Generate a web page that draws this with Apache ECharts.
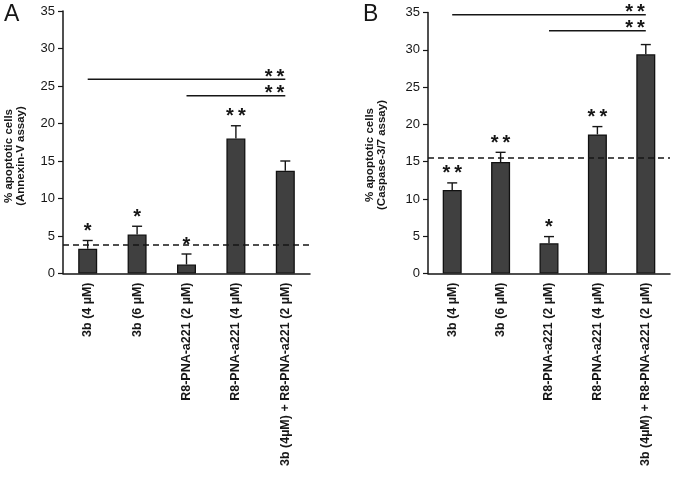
<!DOCTYPE html>
<html>
<head>
<meta charset="utf-8">
<script src="https://cdn.jsdelivr.net/npm/echarts@6/dist/echarts.min.js"></script>
<style>html,body{margin:0;padding:0;background:#fff}#c{width:677px;height:478px}</style>
</head>
<body>
<div id="c"></div>
<script>
const categories = ['3b (4 µM)', '3b (6 µM)', 'R8-PNA-a221 (2 µM)', 'R8-PNA-a221 (4 µM)', '3b (4µM) + R8-PNA-a221 (2 µM)'];
const yTicks = [0, 5, 10, 15, 20, 25, 30, 35];

const annexinValues = [3.3, 5.2, 1.2, 18.0, 13.7];
const annexinErrors = [1.1, 1.1, 1.4, 1.7, 1.3];
const annexinStars = ['*', '*', '*', '**', ''];
const annexinControl = 3.9;
const annexinBrackets = [[0, 4, 25.9, '**'], [2, 4, 23.7, '**']];

const caspaseValues = [11.2, 14.95, 4.05, 18.65, 29.4];
const caspaseErrors = [0.95, 1.3, 0.9, 1.05, 1.3];
const caspaseStars = ['**', '**', '*', '**', ''];
const caspaseControl = 15.5;
const caspaseBrackets = [[0, 4, 34.7, '**'], [2, 4, 32.55, '**']];

const FONT = 'Liberation Sans, Arial, sans-serif';
const INK = '#161616';

function starText(s) { return s.split('').join('\u2009'); }

function xAxisCfg(gi) {
  return {
    type: 'category', gridIndex: gi, data: categories,
    axisLine: { lineStyle: { color: INK, width: 1.5 } },
    axisTick: { show: false },
    axisLabel: { rotate: 90, interval: 0, margin: 9, fontFamily: FONT, fontWeight: 'bold', fontSize: 12.5, color: INK }
  };
}
function yAxisCfg(gi) {
  return {
    type: 'value', gridIndex: gi, min: yTicks[0], max: yTicks[yTicks.length - 1], interval: yTicks[1] - yTicks[0],
    splitLine: { show: false },
    axisLine: { show: true, lineStyle: { color: INK, width: 1.5 } },
    axisTick: { show: true, length: 5, lineStyle: { color: INK, width: 1.2 } },
    axisLabel: { margin: 8, fontFamily: FONT, fontSize: 13, color: INK }
  };
}
function barSeries(gi, values, control) {
  return {
    type: 'bar', xAxisIndex: gi, yAxisIndex: gi, data: values, barWidth: 19,
    itemStyle: { color: '#404040', borderColor: '#111', borderWidth: 1.3 },
    markLine: {
      silent: true, symbol: 'none', label: { show: false },
      lineStyle: { color: INK, type: [6, 4], width: 1.6 },
      data: [{ yAxis: control }]
    },
    z: 2
  };
}
function errSeries(gi, values, errors, stars) {
  return {
    type: 'custom', xAxisIndex: gi, yAxisIndex: gi, z: 3,
    data: values.map((v, i) => [i, v, errors[i]]),
    renderItem: function (params, api) {
      const i = api.value(0), v = api.value(1), e = api.value(2);
      const b = api.coord([i, v]);
      const t = api.coord([i, v + e]);
      const cap = 5;
      const children = [
        { type: 'line', shape: { x1: b[0], y1: b[1], x2: t[0], y2: t[1] }, style: { stroke: INK, lineWidth: 1.4 } },
        { type: 'line', shape: { x1: t[0] - cap, y1: t[1], x2: t[0] + cap, y2: t[1] }, style: { stroke: INK, lineWidth: 1.4 } }
      ];
      const s = stars[params.dataIndex];
      if (s) {
        children.push({ type: 'text', style: { text: starText(s), x: t[0], y: t[1] - 9, align: 'center', verticalAlign: 'middle', font: 'bold 20px ' + FONT, fill: INK } });
      }
      return { type: 'group', children: children };
    }
  };
}
function bracketSeries(gi, brackets) {
  return {
    type: 'custom', xAxisIndex: gi, yAxisIndex: gi, z: 3, clip: false,
    data: brackets,
    renderItem: function (params, api) {
      const p1 = api.coord([api.value(0), api.value(2)]);
      const p2 = api.coord([api.value(1), api.value(2)]);
      const lab = brackets[params.dataIndex][3];
      return {
        type: 'group', children: [
          { type: 'line', shape: { x1: p1[0], y1: p1[1], x2: p2[0], y2: p2[1] }, style: { stroke: INK, lineWidth: 1.4 } },
          { type: 'text', style: { text: starText(lab), x: p2[0] - 1, y: p1[1] - 2, align: 'right', verticalAlign: 'middle', font: 'bold 20px ' + FONT, fill: INK } }
        ]
      };
    }
  };
}

const chart = echarts.init(document.getElementById('c'));
chart.setOption({
  animation: false,
  backgroundColor: '#fff',
  grid: [
    { left: 63, right: 367, top: 11, bottom: 204.5 },
    { left: 428, right: 7, top: 12.5, bottom: 204.5 }
  ],
  xAxis: [xAxisCfg(0), xAxisCfg(1)],
  yAxis: [yAxisCfg(0), yAxisCfg(1)],
  graphic: [
    { type: 'text', left: 4, top: 3, style: { text: 'A', font: '23px ' + FONT, fill: INK } },
    { type: 'text', left: 363, top: 3, style: { text: 'B', font: '23px ' + FONT, fill: INK } },
    { type: 'text', x: 15, y: 156, rotation: Math.PI / 2, style: { text: '% apoptotic cells\n(Annexin-V assay)', align: 'center', verticalAlign: 'middle', font: 'bold 11.5px ' + FONT, lineHeight: 12.5, fill: INK } },
    { type: 'text', x: 376, y: 155, rotation: Math.PI / 2, style: { text: '% apoptotic cells\n(Caspase-3/7 assay)', align: 'center', verticalAlign: 'middle', font: 'bold 11.5px ' + FONT, lineHeight: 12.5, fill: INK } }
  ],
  series: [
    barSeries(0, annexinValues, annexinControl),
    errSeries(0, annexinValues, annexinErrors, annexinStars),
    bracketSeries(0, annexinBrackets),
    barSeries(1, caspaseValues, caspaseControl),
    errSeries(1, caspaseValues, caspaseErrors, caspaseStars),
    bracketSeries(1, caspaseBrackets)
  ]
});
</script>
</body>
</html>
